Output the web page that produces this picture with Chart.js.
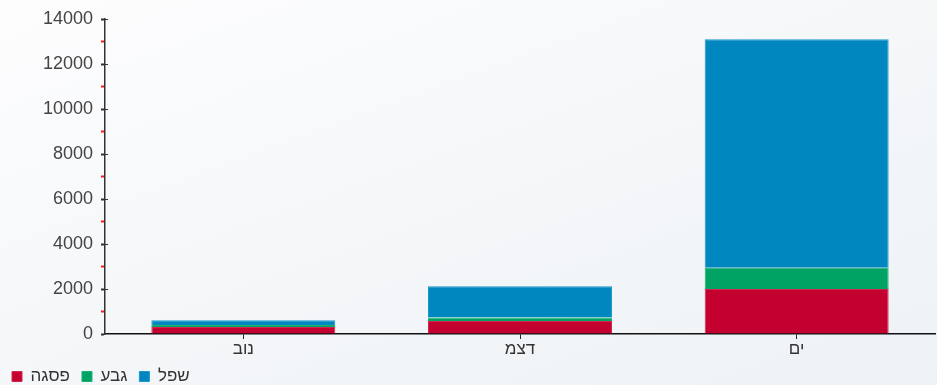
<!DOCTYPE html>
<html>
<head>
<meta charset="utf-8">
<script src="https://cdn.jsdelivr.net/npm/chart.js@4/dist/chart.umd.min.js"></script>
<style>
  html, body { margin: 0; padding: 0; }
  body {
    width: 937px; height: 385px; overflow: hidden;
    background: linear-gradient(160deg, #fdfdfe 0%, #f5f7f9 50%, #edf2f6 100%);
  }
  #chart { display: block; }
</style>
</head>
<body>
<canvas id="chart" width="937" height="385"></canvas>
<script>
// categories and series
var categories = ["נוב", "דצמ", "ים"];
var seriesNames = ["פסגה", "גבע", "שפל"];
var peakValues = [310, 580, 2000];
var hillValues = [90, 150, 950];
var lowValues = [210, 1390, 10150];
var yTickStep = 1000;
var yMax = 14000;

var colors = ["#c40030", "#00a364", "#0087c0"];
var borders = ["#d0264f", "#1bb078", "#1a97cc"];

// major ticks also poke out to the right of the y axis
var rightTicks = {
  id: "rightTicks",
  afterDraw: function(chart) {
    var y = chart.scales.y;
    var ctx = chart.ctx;
    ctx.save();
    ctx.strokeStyle = "#333";
    ctx.lineWidth = 1;
    y.ticks.forEach(function(t) {
      if (t.value % 2000 === 0 && t.value > 0) {
        var py = Math.round(y.getPixelForValue(t.value)) + 0.5;
        ctx.beginPath();
        ctx.moveTo(y.right, py);
        ctx.lineTo(y.right + 3, py);
        ctx.stroke();
      }
    });
    ctx.restore();
  }
};

var seriesValues = [peakValues, hillValues, lowValues];
var datasets = [];
for (let i = 0; i < seriesNames.length; i++) {
  datasets.push({
    label: seriesNames[i],
    data: seriesValues[i],
    backgroundColor: colors[i],
    borderColor: borders[i],
    borderWidth: 1,
    categoryPercentage: 1,
    barPercentage: 0.665
  });
}

var chart = new Chart(document.getElementById("chart"), {
  type: "bar",
  data: { labels: categories, datasets: datasets },
  plugins: [rightTicks],
  options: {
    responsive: false,
    animation: false,
    devicePixelRatio: 1,
    layout: { padding: { top: 19, right: 2, left: 0, bottom: -10 } },
    plugins: {
      tooltip: { enabled: false },
      legend: {
        position: "bottom",
        align: "start",
        labels: {
          boxWidth: 10,
          boxHeight: 10,
          padding: 12,
          color: "#333",
          font: { family: "Liberation Sans", size: 17 }
        }
      }
    },
    scales: {
      x: {
        stacked: true,
        border: { color: "#111", width: 1.5 },
        grid: { drawOnChartArea: false, offset: false, tickLength: 5, color: "#222" },
        ticks: { color: "#333", padding: 0, font: { family: "Liberation Sans", size: 17 } },
        afterFit: function(scale) { scale.height = 22; }
      },
      y: {
        stacked: true,
        min: 0,
        max: yMax,
        border: { color: "#333", width: 1.5 },
        grid: {
          drawOnChartArea: false,
          tickLength: 4,
          tickWidth: 2,
          tickColor: function(c) { return c.tick && c.tick.value % 2000 ? "#ff1a1a" : "#333"; }
        },
        ticks: {
          stepSize: yTickStep,
          autoSkip: false,
          color: "#444",
          padding: 8,
          font: { family: "Liberation Sans", size: 18 },
          callback: function(v) { return v % 2000 === 0 ? v : ""; }
        },
        afterFit: function(scale) { scale.width = 105; }
      }
    }
  }
});
</script>
</body>
</html>
